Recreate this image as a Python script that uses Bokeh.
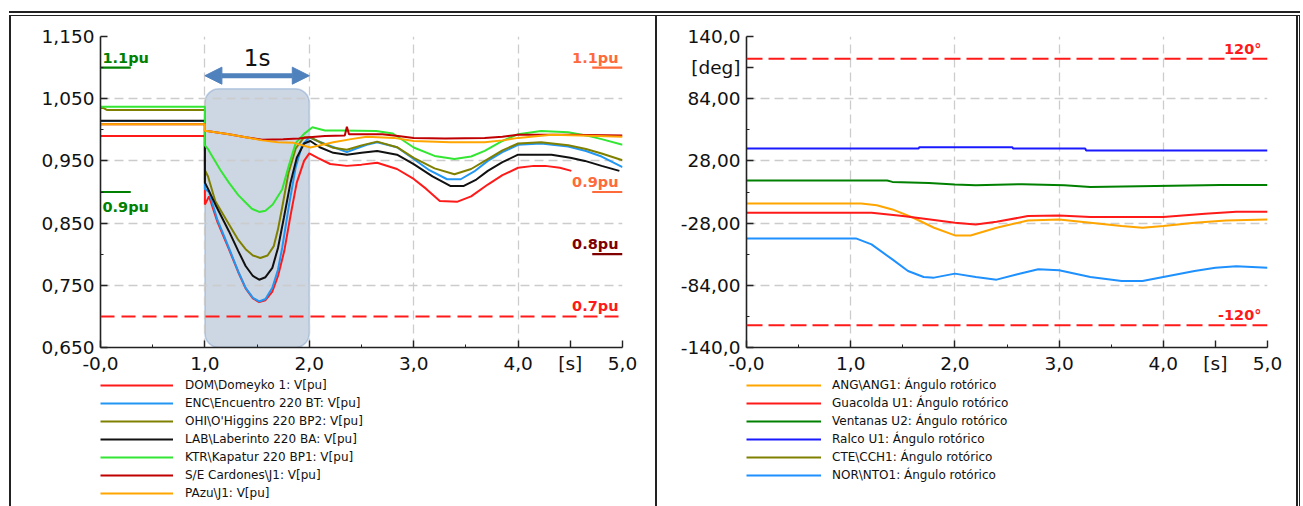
from bokeh.plotting import figure
from bokeh.models import (FixedTicker, Legend, LegendItem, BoxAnnotation, Arrow,
                          NormalHead, Label, Span, Range1d, Spacer)
from bokeh.layouts import row, column
from bokeh.embed import file_html
from bokeh.resources import INLINE

FONT = "DejaVu Sans"

# ------------------------------------------------------------------ left: voltages
v_labels = ["DOM\\Domeyko 1: V[pu]", "ENC\\Encuentro 220 BT: V[pu]",
            "OHI\\O'Higgins 220 BP2: V[pu]", "LAB\\Laberinto 220 BA: V[pu]",
            "KTR\\Kapatur 220 BP1: V[pu]", "S/E Cardones\\J1: V[pu]", "PAzu\\J1: V[pu]"]
v_colors = ["#ff1a1a", "#2196f3", "#808000", "#111111", "#33e633", "#c00000", "#ffa500"]

dom_t = [0, 1.0, 1.0, 1.04, 1.12, 1.23, 1.32, 1.39, 1.46, 1.52, 1.58, 1.646, 1.70, 1.76, 1.82,
         1.88, 1.95, 2.0, 2.08, 2.2, 2.36, 2.5, 2.65, 2.84, 3.0, 3.12, 3.25, 3.42, 3.55, 3.71,
         3.85, 4.0, 4.15, 4.26, 4.4, 4.51]
dom_v = [0.990, 0.990, 0.880, 0.893, 0.852, 0.808, 0.771, 0.745, 0.729, 0.723, 0.726, 0.740,
         0.765, 0.805, 0.862, 0.915, 0.950, 0.962, 0.955, 0.945, 0.942, 0.944, 0.947, 0.937,
         0.921, 0.905, 0.8855, 0.8845, 0.893, 0.912, 0.927, 0.939, 0.942, 0.942, 0.939, 0.934]

enc_t = [0, 1.0, 1.0, 1.04, 1.12, 1.23, 1.32, 1.39, 1.46, 1.52, 1.58, 1.646, 1.70, 1.74, 1.805,
         1.87, 1.93, 2.0, 2.08, 2.17, 2.3, 2.36, 2.45, 2.55, 2.65, 2.84, 3.0, 3.15, 3.32, 3.45,
         3.58, 3.71, 3.85, 4.0, 4.22, 4.48, 4.65, 4.80, 5.0]
enc_v = [1.014, 1.014, 0.905, 0.900, 0.855, 0.810, 0.772, 0.746, 0.730, 0.724, 0.728, 0.746,
         0.775, 0.810, 0.878, 0.940, 0.975, 0.988, 0.982, 0.976, 0.968, 0.964, 0.970, 0.976,
         0.980, 0.972, 0.953, 0.935, 0.9205, 0.9205, 0.933, 0.950, 0.964, 0.976, 0.978, 0.973,
         0.966, 0.957, 0.940]

ohi_t = [0, 0.03, 0.06, 1.0, 1.0, 1.03, 1.10, 1.23, 1.32, 1.39, 1.46, 1.53, 1.60, 1.66, 1.70,
         1.74, 1.80, 1.87, 1.95, 2.01, 2.1, 2.23, 2.36, 2.5, 2.65, 2.84, 3.0, 3.2, 3.39, 3.55,
         3.71, 3.85, 4.0, 4.22, 4.48, 4.65, 4.80, 5.0]
ohi_v = [1.035, 1.035, 1.032, 1.032, 0.935, 0.925, 0.885, 0.848, 0.823, 0.808, 0.798, 0.794,
         0.798, 0.813, 0.840, 0.875, 0.930, 0.970, 0.988, 0.988, 0.980, 0.971, 0.968, 0.975,
         0.981, 0.972, 0.955, 0.938, 0.9285, 0.937, 0.953, 0.967, 0.978, 0.980, 0.975, 0.969,
         0.962, 0.951]

lab_t = [0, 1.0, 1.0, 1.03, 1.10, 1.23, 1.32, 1.39, 1.46, 1.52, 1.58, 1.646, 1.70, 1.757, 1.82,
         1.88, 1.95, 2.01, 2.1, 2.23, 2.36, 2.5, 2.65, 2.84, 3.0, 3.18, 3.35, 3.48, 3.6, 3.71,
         3.85, 4.0, 4.32, 4.5, 4.64, 4.8, 4.97]
lab_v = [1.0145, 1.0145, 0.915, 0.905, 0.880, 0.837, 0.805, 0.781, 0.765, 0.759, 0.763, 0.778,
         0.810, 0.859, 0.915, 0.955, 0.978, 0.982, 0.972, 0.963, 0.960, 0.963, 0.966, 0.960,
         0.9447, 0.925, 0.9097, 0.9097, 0.920, 0.934, 0.948, 0.960, 0.960, 0.955, 0.950, 0.942,
         0.934]

ktr_t = [0, 1.0, 1.0, 1.03, 1.05, 1.15, 1.23, 1.32, 1.39, 1.45, 1.52, 1.58, 1.65, 1.74, 1.80,
         1.87, 1.95, 2.03, 2.15, 2.30, 2.64, 2.8, 3.0, 3.2, 3.39, 3.55, 3.68, 3.85, 4.0, 4.22,
         4.48, 4.65, 4.80, 5.0]
ktr_v = [1.037, 1.037, 0.975, 0.969, 0.963, 0.935, 0.915, 0.895, 0.883, 0.873, 0.868, 0.870,
         0.880, 0.904, 0.940, 0.979, 0.9935, 1.004, 0.999, 0.999, 0.998, 0.994, 0.9715, 0.958,
         0.953, 0.957, 0.966, 0.982, 0.993, 0.998, 0.996, 0.991, 0.985, 0.976]

car_t = [0, 1.0, 1.0, 1.02, 1.1, 1.23, 1.39, 1.55, 1.75, 1.9, 2.0, 2.15, 2.34, 2.36, 2.38, 2.5,
         2.7, 2.85, 3.0, 3.3, 3.68, 3.85, 4.0, 4.5, 5.0]
car_v = [1.009, 1.009, 0.998, 0.998, 0.996, 0.993, 0.988, 0.984, 0.985, 0.986, 0.988, 0.990,
         0.991, 1.005, 0.993, 0.993, 0.993, 0.990, 0.987, 0.986, 0.987, 0.989, 0.992, 0.992,
         0.991]

paz_t = [0, 1.0, 1.0, 1.02, 1.1, 1.23, 1.39, 1.55, 1.7, 1.85, 2.01, 2.1, 2.23, 2.4, 2.55, 2.81,
         3.0, 3.35, 3.68, 3.85, 4.0, 4.32, 4.6, 5.0]
paz_v = [1.009, 1.009, 0.998, 0.998, 0.996, 0.993, 0.988, 0.983, 0.980, 0.979, 0.9715, 0.975,
         0.980, 0.985, 0.989, 0.987, 0.982, 0.980, 0.980, 0.983, 0.987, 0.992, 0.991, 0.989]

v_series = [(dom_t, dom_v), (enc_t, enc_v), (ohi_t, ohi_v), (lab_t, lab_v),
            (ktr_t, ktr_v), (car_t, car_v), (paz_t, paz_v)]

v_yticks = [0.65, 0.75, 0.85, 0.95, 1.05, 1.15]
v_yticklabels = ["0,650", "0,750", "0,850", "0,950", "1,050", "1,150"]
v_yminor = [0.70, 0.80, 0.90, 1.00, 1.10]
xticks = [0, 1, 2, 3, 4, 5]
xticklabels = ["-0,0", "1,0", "2,0", "3,0", "4,0", "5,0"]
xminor = [0.5, 1.5, 2.5, 3.5]
x_unit_label, x_unit_pos = "[s]", 4.5

# limit marks (left plot)
lim_left_vals = [1.1, 0.9]
lim_left_text = ["1.1pu", "0.9pu"]
lim_left_color = "#008000"
lim_right_vals = [1.1, 0.9, 0.8]
lim_right_text = ["1.1pu", "0.9pu", "0.8pu"]
lim_right_colors = ["#ff6a3a", "#ff6a3a", "#800000"]
lim_dash_val, lim_dash_text = 0.7, "0.7pu"
mark_len = 0.29

# fault window
win_t0, win_t1, win_top = 1.0, 2.0, 1.066
arrow_y = 1.087
win_text = "1s"

# ------------------------------------------------------------------ right: rotor angles
a_labels = ["ANG\\ANG1: Ángulo rotórico", "Guacolda U1: Ángulo rotórico",
            "Ventanas U2: Ángulo rotórico", "Ralco U1: Ángulo rotórico",
            "CTE\\CCH1: Ángulo rotórico", "NOR\\NTO1: Ángulo rotórico"]
a_colors = ["#ffa500", "#ff1a1a", "#008000", "#1a1aff", "#808000", "#1e90ff"]

ang_t = [0, 1.1, 1.25, 1.4, 1.6, 1.8, 2.0, 2.15, 2.4, 2.7, 3.0, 3.3, 3.6, 3.8, 4.0, 4.3, 4.6, 5.0]
ang_v = [-10.3, -10.3, -12.0, -15.7, -23.2, -32.2, -39.1, -39.1, -32.2, -25.6, -24.7, -27.7,
         -30.7, -32.2, -30.7, -27.7, -25.6, -24.7]
gua_t = [0, 1.2, 1.5, 1.8, 2.0, 2.2, 2.4, 2.7, 3.0, 3.3, 4.0, 4.4, 4.7, 5.0]
gua_v = [-18.7, -18.7, -21.7, -25.3, -27.7, -29.2, -26.8, -21.7, -21.1, -22.6, -22.6, -19.6,
         -17.8, -17.8]
ven_t = [0, 1.35, 1.4, 1.75, 2.0, 2.2, 2.65, 3.05, 3.3, 4.55, 5.0]
ven_v = [10.3, 10.3, 9.1, 8.2, 6.7, 6.1, 7.0, 6.1, 4.6, 6.4, 6.4]
ral_t = [0, 1.65, 1.66, 2.55, 2.56, 3.25, 3.26, 5.0]
ral_v = [39.1, 39.1, 40.3, 40.3, 39.1, 39.1, 37.3, 37.3]
cte_t = []          # not visible in the picture (legend entry only)
cte_v = []
nor_t = [0, 1.05, 1.2, 1.4, 1.55, 1.7, 1.8, 2.0, 2.2, 2.4, 2.6, 2.8, 3.0, 3.3, 3.6, 3.8, 4.0,
         4.3, 4.5, 4.7, 5.0]
nor_v = [-41.8, -41.8, -47.2, -60.7, -71.1, -76.5, -77.1, -73.5, -76.5, -78.9, -74.1, -69.6,
         -70.5, -76.5, -80.1, -80.1, -76.5, -71.1, -68.1, -66.9, -68.1]
a_series = [(ang_t, ang_v), (gua_t, gua_v), (ven_t, ven_v), (ral_t, ral_v), (cte_t, cte_v),
            (nor_t, nor_v)]

a_yticks = [-140, -84, -28, 28, 84, 140]
a_yticklabels = ["-140,0", "-84,00", "-28,00", "28,00", "84,00", "140,0"]
a_yminor = [-112, -56, 0, 56]
a_unit_label, a_unit_pos = "[deg]", 112
a_lim_vals = [120, -120]
a_lim_text = ["120°", "-120°"]


def style_axes(p, yticks, ylabels, yminor, y_unit):
    xt = xticks + [x_unit_pos]
    p.xaxis.ticker = FixedTicker(ticks=xt, minor_ticks=xminor)
    p.xaxis.major_label_overrides = dict(zip(xt, xticklabels + [x_unit_label]))
    yt = yticks + ([y_unit[1]] if y_unit else [])
    yl = ylabels + ([y_unit[0]] if y_unit else [])
    p.yaxis.ticker = FixedTicker(ticks=yt, minor_ticks=yminor)
    p.yaxis.major_label_overrides = dict(zip(yt, yl))
    for ax in (p.xaxis[0], p.yaxis[0]):
        ax.axis_line_color = "#222222"
        ax.axis_line_width = 1.6
        ax.major_tick_in = 7
        ax.major_tick_out = 0
        ax.minor_tick_in = 3
        ax.minor_tick_out = 0
        ax.major_tick_line_color = "#222222"
        ax.minor_tick_line_color = "#222222"
        ax.major_tick_line_width = 1.4
        ax.major_label_text_font = FONT
        ax.major_label_text_font_size = "18.5px"
        ax.major_label_text_color = "#111111"
    p.xaxis.major_label_standoff = 5
    p.yaxis.major_label_standoff = 6
    for g in (p.xgrid[0], p.ygrid[0]):
        g.grid_line_color = "#cccccc"
        g.grid_line_dash = "9 5"
        g.grid_line_width = 1.3
    p.xgrid.ticker = FixedTicker(ticks=xticks)
    p.ygrid.ticker = FixedTicker(ticks=yticks)
    p.outline_line_color = None
    p.background_fill_color = "white"
    p.border_fill_color = "white"


def legend_fig(width, height, left, labels, colors, series, glyph_w, standoff):
    q = figure(width=width, height=height, x_range=Range1d(0, 1), y_range=Range1d(0, 1),
               output_backend="svg", toolbar_location=None, title=None,
               x_axis_type=None, y_axis_type=None,
               min_border_left=left, min_border_right=0, min_border_top=0,
               min_border_bottom=0)
    q.grid.visible = False
    q.outline_line_color = None
    q.border_fill_color = "white"
    items = []
    for lab, col, (t, v) in zip(labels, colors, series):
        # hidden copy of the series: only its legend key is shown
        r = q.line(t or [0], v or [0], line_color=col, line_width=2, visible=False)
        items.append(LegendItem(label=lab, renderers=[r]))
    q.add_layout(Legend(items=items, location="top_left", orientation="vertical",
                        glyph_width=glyph_w, glyph_height=18, label_height=18, spacing=0,
                        padding=0, margin=0, label_standoff=standoff,
                        label_text_font=FONT, label_text_font_size="12px",
                        label_text_color="#111111", border_line_color=None,
                        background_fill_alpha=0, inactive_fill_alpha=0))
    return q


HP, HL = 360, 130
# ------------------------------------------------------------------ left figure
p1 = figure(width=644, height=HP, x_range=Range1d(0, 5), y_range=Range1d(0.65, 1.15),
            output_backend="svg", toolbar_location=None, title=None,
            min_border_left=89, min_border_right=33, min_border_top=20, min_border_bottom=29)
style_axes(p1, v_yticks, v_yticklabels, v_yminor, None)

p1.add_layout(BoxAnnotation(left=win_t0, right=win_t1, bottom=0.65, top=win_top,
                            fill_color="#cdd6e3", fill_alpha=1.0, line_color="#4a7ebb",
                            line_width=1.6, border_radius=14, level="image"))

for (t, v), c in zip(v_series, v_colors):
    p1.line(t, v, line_color=c, line_width=2)

p1.segment(x0=[0] * len(lim_left_vals), x1=[mark_len] * len(lim_left_vals),
           y0=lim_left_vals, y1=lim_left_vals, line_color=lim_left_color, line_width=2.2)
p1.segment(x0=[5 - mark_len] * len(lim_right_vals), x1=[5] * len(lim_right_vals),
           y0=lim_right_vals, y1=lim_right_vals, line_color=lim_right_colors, line_width=2.2)
p1.add_layout(Span(location=lim_dash_val, dimension="width", line_color="#ff1a1a",
                   line_width=2, line_dash="14 7"))
for val, txt, off in zip(lim_left_vals, lim_left_text, [10, -15]):
    p1.add_layout(Label(x=0, y=val, text=txt, x_offset=2, y_offset=off, text_align="left",
                        text_baseline="middle", text_font=FONT, text_font_style="bold",
                        text_font_size="14.5px", text_color=lim_left_color))
for val, txt, col in zip(lim_right_vals + [lim_dash_val], lim_right_text + [lim_dash_text],
                         lim_right_colors + ["#ff1a1a"]):
    p1.add_layout(Label(x=5, y=val, text=txt, x_offset=-4, y_offset=10, text_align="right",
                        text_baseline="middle", text_font=FONT, text_font_style="bold",
                        text_font_size="14.5px", text_color=col))

p1.add_layout(Arrow(x_start=win_t0, x_end=win_t1, y_start=arrow_y, y_end=arrow_y,
                    line_color="#4f81bd", line_width=5,
                    start=NormalHead(size=17, fill_color="#4f81bd", line_color="#4f81bd"),
                    end=NormalHead(size=17, fill_color="#4f81bd", line_color="#4f81bd")))
p1.add_layout(Label(x=(win_t0 + win_t1) / 2, y=arrow_y, text=win_text, y_offset=18,
                    text_align="center", text_baseline="middle", text_font=FONT,
                    text_font_size="23px", text_color="#111111"))
leg1 = legend_fig(644, HL, 89, v_labels, v_colors, v_series, 73, 12)

# ------------------------------------------------------------------ right figure
p2 = figure(width=639, height=HP, x_range=Range1d(0, 5), y_range=Range1d(-140, 140),
            output_backend="svg", toolbar_location=None, title=None,
            min_border_left=89, min_border_right=29, min_border_top=20, min_border_bottom=29)
style_axes(p2, a_yticks, a_yticklabels, a_yminor, (a_unit_label, a_unit_pos))

for (t, v), c in zip(a_series, a_colors):
    p2.line(t, v, line_color=c, line_width=2)

for val, txt in zip(a_lim_vals, a_lim_text):
    p2.add_layout(Span(location=val, dimension="width", line_color="#ff1a1a",
                       line_width=2, line_dash="16 6"))
    p2.add_layout(Label(x=5, y=val, text=txt, x_offset=-6, y_offset=10, text_align="right",
                        text_baseline="middle", text_font=FONT, text_font_style="bold",
                        text_font_size="14.5px", text_color="#ff1a1a"))
leg2 = legend_fig(639, HL, 89, a_labels, a_colors, a_series, 75, 11)

# ------------------------------------------------------------------ frame (page decoration)
H = HP + HL
DARK = {"background-color": "#222222"}
W_ALL = 2 + 644 + 2 + 639 + 2 + 1 + 1


def vline(w):
    return Spacer(width=w, height=H, styles=DARK)


def hline(h):
    return Spacer(width=W_ALL, height=h, styles=DARK)


body = row(vline(2), column(p1, leg1), vline(2), column(p2, leg2), vline(2),
           Spacer(width=1, height=H), vline(1))
frame = column(Spacer(width=W_ALL, height=11), hline(2), Spacer(width=W_ALL, height=2),
               hline(1), body)
layout = row(Spacer(width=9, height=506), frame)
open("out.html", "w").write(file_html(layout, INLINE))
